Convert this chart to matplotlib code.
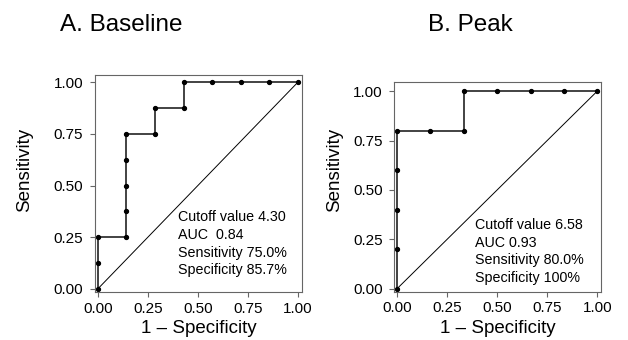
import matplotlib
matplotlib.use("Agg")
import matplotlib.pyplot as plt

plt.rcParams['font.family'] = ['Liberation Sans', 'DejaVu Sans']

# A. Baseline: ROC points (1 - specificity, sensitivity)
base_fpr = [0, 0, 0, 1/7, 1/7, 1/7, 1/7, 1/7, 2/7, 2/7, 3/7, 3/7, 4/7, 5/7, 6/7, 1]
base_tpr = [0, 0.125, 0.25, 0.25, 0.375, 0.5, 0.625, 0.75, 0.75, 0.875, 0.875, 1, 1, 1, 1, 1]
base_text = ["Cutoff value 4.30", "AUC  0.84", "Sensitivity 75.0%", "Specificity 85.7%"]

# B. Peak
peak_fpr = [0, 0, 0, 0, 0, 1/6, 2/6, 2/6, 3/6, 4/6, 5/6, 1]
peak_tpr = [0, 0.2, 0.4, 0.6, 0.8, 0.8, 0.8, 1, 1, 1, 1, 1]
peak_text = ["Cutoff value 6.58", "AUC 0.93", "Sensitivity 80.0%", "Specificity 100%"]

ticks = [0, 0.25, 0.5, 0.75, 1.0]
tick_labels = ["0.00", "0.25", "0.50", "0.75", "1.00"]

fig = plt.figure(figsize=(6.28, 3.40), dpi=100)


def roc_panel(rect, fpr, tpr, lines, ylim, txt_xy, title, title_x, ylab_x):
  ax = fig.add_axes(rect)
  ax.plot([0, 1], [0, 1], color='black', lw=0.7)
  ax.plot(fpr, tpr, color='#222222', lw=1.2, marker='o', ms=2.8,
          mfc='black', mec='black')
  ax.set_xlim(-0.0135, 1.0185)
  ax.set_ylim(*ylim)
  ax.set_xticks(ticks)
  ax.set_xticklabels(tick_labels)
  ax.set_yticks(ticks)
  ax.set_yticklabels(tick_labels)
  ax.tick_params(direction='out', length=3.5, width=0.8, color='#666666',
                 labelsize=11)
  ax.tick_params(axis='y', pad=5)
  ax.tick_params(axis='x', pad=3.5)
  for s in ax.spines.values():
    s.set_color('#666666')
    s.set_linewidth(0.8)
  ax.text(txt_xy[0], txt_xy[1], "\n".join(lines), fontsize=10.3,
          va='top', ha='left', linespacing=1.33)
  ax.set_xlabel("1 \u2013 Specificity", fontsize=13.5, labelpad=3)
  ax.set_ylabel("Sensitivity", fontsize=13.5)
  ax.yaxis.set_label_coords(ylab_x, 0.5, transform=fig.transFigure)
  fig.text(title_x, 1 - 31/340, title, fontsize=17.5, ha='left', va='baseline')
  return ax


roc_panel([0.1513, 0.1412, 0.3291, 0.638], base_fpr, base_tpr, base_text,
          (-0.0145, 1.034), (0.40, 0.380), "A. Baseline", 60/628, 33/628)
roc_panel([0.6279, 0.142, 0.3291, 0.6168], peak_fpr, peak_tpr, peak_text,
          (-0.015, 1.046), (0.39, 0.357), "B. Peak", 428/628, 343/628)

fig.savefig("out.png", dpi=100)
